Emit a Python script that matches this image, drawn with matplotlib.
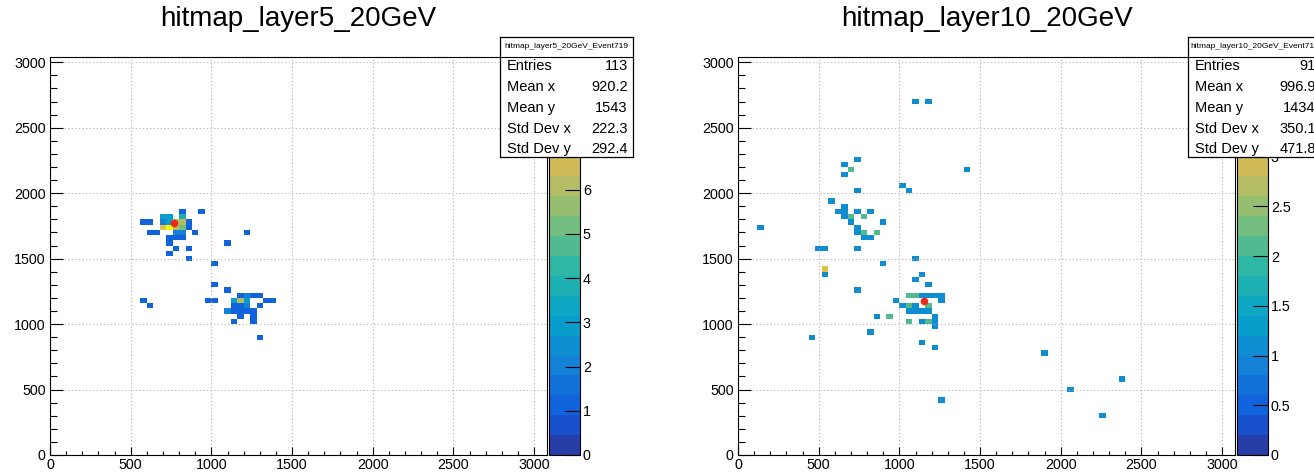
import numpy as np
import matplotlib
matplotlib.use("Agg")
import matplotlib.pyplot as plt
from matplotlib.colors import LinearSegmentedColormap, ListedColormap, Normalize
from matplotlib.ticker import MultipleLocator, FormatStrFormatter

plt.rcParams['font.family'] = ['Liberation Sans', 'DejaVu Sans']

# layer 5: bin centre x, bin centre y, hits in that bin
l5_x = [820, 940,
        700, 740, 820,
        580, 620, 700, 740, 780, 820, 860,
        700, 740, 780, 820, 860,
        620, 660, 780, 820, 900,
        740, 780, 820,
        740,
        780, 860,
        740,
        860,
        1220, 1100, 1020, 1020, 1100, 580, 620, 980, 1020,
        1180, 1220, 1260, 1300,
        1140, 1180, 1220, 1340, 1380,
        1140, 1180, 1220, 1300,
        1100, 1140, 1180, 1220, 1260,
        1180, 1260,
        1140, 1260,
        1300]
l5_y = [1860, 1860,
        1820, 1820, 1820,
        1780, 1780, 1780, 1780, 1780, 1780, 1780,
        1740, 1740, 1740, 1740, 1740,
        1700, 1700, 1700, 1700, 1700,
        1660, 1660, 1660,
        1620,
        1580, 1580,
        1540,
        1500,
        1700, 1620, 1460, 1300, 1260, 1180, 1140, 1180, 1180,
        1220, 1220, 1220, 1220,
        1180, 1180, 1180, 1180, 1180,
        1140, 1140, 1140, 1140,
        1100, 1100, 1100, 1100, 1100,
        1060, 1060,
        1020, 1020,
        900]
l5_n = [1, 1,
        3, 3, 4,
        1, 1, 2, 3, 6, 6, 1,
        7, 9, 6, 5, 1,
        1, 1, 2, 2, 1,
        1, 1, 1,
        1,
        1, 1,
        1,
        1,
        1, 1, 1, 1, 1, 1, 1, 1, 1,
        1, 2, 1, 1,
        3, 6, 3, 1, 1,
        1, 1, 2, 1,
        2, 1, 1, 1, 1,
        1, 1,
        1, 1,
        1]
l5_marker = (770, 1775)
l5_zticks = [0, 1, 2, 3, 4, 5, 6]

# layer 10
l10_x = [1100, 1180, 1420, 740, 660, 700, 660, 740, 1020, 1060, 580,
         660,
         620, 660, 740, 820,
         660, 700, 780,
         700, 900,
         740, 140,
         740, 780, 860,
         780, 820,
         500, 540, 740,
         1100, 900, 540, 540, 1140, 1100, 1180, 740,
         1060, 1100, 1140, 1180, 1220, 1260,
         980, 1260,
         1020, 1060, 1100, 1180,
         1060, 1100, 1140, 1180,
         860, 940, 1220,
         1060, 1140, 1180, 1220,
         1220, 820, 460, 1140, 1220, 1260, 1900, 2060, 2380, 2260]
l10_y = [2700, 2700, 2180, 2260, 2220, 2180, 2140, 2020, 2060, 2020, 1940,
         1900,
         1860, 1860, 1860, 1860,
         1820, 1820, 1820,
         1780, 1780,
         1740, 1740,
         1700, 1700, 1700,
         1660, 1660,
         1580, 1580, 1580,
         1500, 1460, 1420, 1380, 1380, 1340, 1300, 1260,
         1220, 1220, 1220, 1220, 1220, 1220,
         1180, 1180,
         1140, 1140, 1140, 1140,
         1100, 1100, 1100, 1100,
         1060, 1060, 1060,
         1020, 1020, 1020, 1020,
         980, 940, 900, 860, 820, 420, 780, 500, 580, 300]
l10_n = [1, 1, 1, 1, 1, 2, 1, 1, 1, 1, 1,
         1,
         1, 1, 1, 1,
         1, 2, 2,
         1, 1,
         1, 1,
         1, 2, 2,
         1, 1,
         1, 1, 1,
         1, 1, 3, 1, 1, 1, 1, 1,
         2, 2, 1, 1, 1, 1,
         1, 1,
         1, 2, 1, 2,
         1, 1, 1, 1,
         1, 2, 1,
         2, 1, 2, 1,
         1, 1, 1, 1, 1, 1, 1, 1, 1, 1]
l10_marker = (1151, 1178)
l10_zticks = [0, 0.5, 1, 1.5, 2, 2.5, 3]

stat_names = ["Entries", "Mean x", "Mean y", "Std Dev x", "Std Dev y"]
l5_stats = ["113", "920.2", "1543", "222.3", "292.4"]
l10_stats = ["91", "996.9", "1434", "350.1", "471.8"]

x_edges = np.arange(0, 3081, 40)
y_edges = np.arange(0, 3041, 40)

# ROOT kBird palette, 20 contour levels
stops = [0.0, 0.125, 0.25, 0.375, 0.5, 0.625, 0.75, 0.875, 1.0]
red = [0.2082, 0.0592, 0.0780, 0.0232, 0.1802, 0.5301, 0.8186, 0.9956, 0.9764]
green = [0.1664, 0.3599, 0.5041, 0.6419, 0.7178, 0.7492, 0.7328, 0.7862, 0.9832]
blue = [0.5293, 0.8684, 0.8385, 0.7914, 0.6425, 0.4662, 0.3499, 0.1968, 0.0539]
bird = LinearSegmentedColormap.from_list('bird', list(zip(stops, zip(red, green, blue))), N=255)
idx = [int((i + 0.99) * 255 / 20) for i in range(20)]
cmap20 = ListedColormap([bird(k / 254) for k in idx])

W, H = 1314, 472
fig = plt.figure(figsize=(W / 100, H / 100), dpi=100)


def px_rect(x0, y0, x1, y1):
    return [x0 / W, 1 - y1 / H, (x1 - x0) / W, (y1 - y0) / H]


def panel(x0, xs, ys, ns, zmax, zticks, marker, title, box_title, values):
    ax = fig.add_axes(px_rect(x0, 57, x0 + 497, 455))
    cax = fig.add_axes(px_rect(x0 + 499, 57, x0 + 530, 455))

    h, _, _ = np.histogram2d(xs, ys, bins=[x_edges, y_edges], weights=ns)
    h = np.ma.masked_equal(h.T, 0)
    mesh = ax.pcolormesh(x_edges, y_edges, h, cmap=cmap20, norm=Normalize(0, zmax))
    ax.plot(marker[0], marker[1], 'o', color='#f02818', ms=5.5, mec='none', zorder=5)

    ax.set_xlim(0, 3080)
    ax.set_ylim(0, 3040)
    ax.xaxis.set_major_locator(MultipleLocator(500))
    ax.xaxis.set_minor_locator(MultipleLocator(100))
    ax.yaxis.set_major_locator(MultipleLocator(500))
    ax.yaxis.set_minor_locator(MultipleLocator(100))
    ax.grid(True, which='major', color='#b0b0b0', ls=(0, (1, 2.2)), lw=0.8)
    ax.tick_params(axis='x', which='major', direction='in', length=6, width=0.8,
                   labelsize=10.3, pad=2, top=False)
    ax.tick_params(axis='x', which='minor', direction='in', length=3, width=0.8, top=False)
    ax.tick_params(axis='y', which='major', direction='in', length=9, width=0.8,
                   labelsize=10.3, pad=3, right=False)
    ax.tick_params(axis='y', which='minor', direction='in', length=5, width=0.8, right=False)
    for s in ax.spines.values():
        s.set_linewidth(0.8)

    cb = fig.colorbar(mesh, cax=cax, ticks=zticks)
    cb.outline.set_linewidth(0.8)
    cb.ax.minorticks_off()
    cb.ax.yaxis.set_major_formatter(FormatStrFormatter('%g'))
    cax.tick_params(direction='in', length=11, width=0.8, labelsize=10.3, pad=2)

    fig.text((x0 + x0 + 497) / 2 / W, 1 - 19 / H, title, ha='center', va='center', fontsize=20)

    bx = fig.add_axes(px_rect(x0 + 450, 37, x0 + 583, 157), zorder=10)
    bx.set_xlim(0, 1)
    bx.set_ylim(0, 1)
    bx.set_xticks([])
    bx.set_yticks([])
    for s in bx.spines.values():
        s.set_linewidth(0.9)
    bx.axhline(0.833, color='black', lw=0.8)
    bx.text(0.5, 0.917, box_title, ha='center', va='center', fontsize=6)
    rows = [0.758, 0.583, 0.408, 0.233, 0.067]
    for yy, name, val in zip(rows, stat_names, values):
        bx.text(0.05, yy, name, ha='left', va='center', fontsize=10.5)
        bx.text(0.96, yy, val, ha='right', va='center', fontsize=10.5)


panel(50, l5_x, l5_y, l5_n, 9, l5_zticks, l5_marker, "hitmap_layer5_20GeV",
      "hitmap_layer5_20GeV_Event719", l5_stats)
panel(738, l10_x, l10_y, l10_n, 4, l10_zticks, l10_marker, "hitmap_layer10_20GeV",
      "hitmap_layer10_20GeV_Event719", l10_stats)

fig.savefig("out.png", dpi=100)
